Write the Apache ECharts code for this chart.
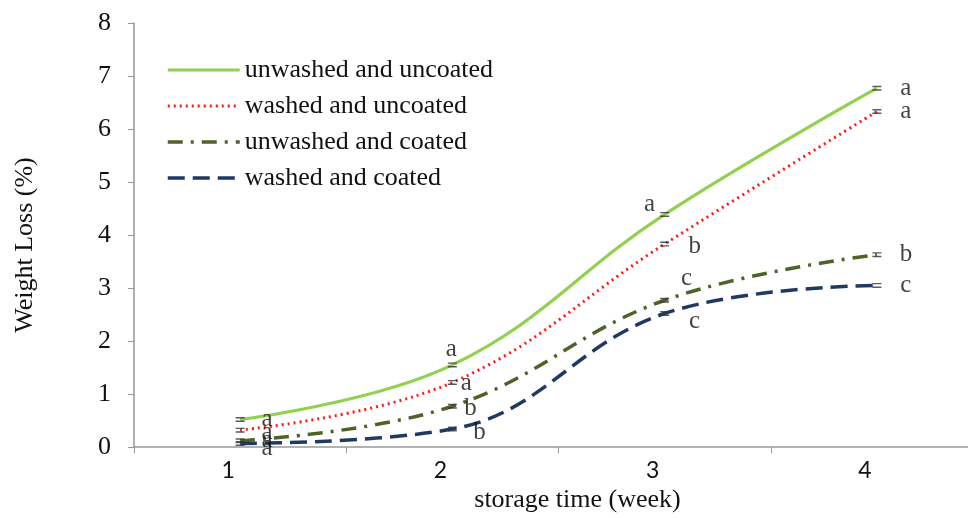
<!DOCTYPE html>
<html>
<head>
<meta charset="utf-8">
<script src="https://cdn.jsdelivr.net/npm/echarts@6/dist/echarts.min.js"></script>
<style>html,body{margin:0;padding:0;background:#fff;overflow:hidden;width:968px;height:518px;}#c{width:983px;height:518px;}</style>
</head>
<body>
<div id="c"></div>
<script>
const categories = ['1', '2', '3', '4'];
const seriesNames = ['unwashed and uncoated', 'washed and uncoated', 'unwashed and coated', 'washed and coated'];
const unwashedUncoated = [0.52, 1.55, 4.39, 6.77];
const washedUncoated = [0.32, 1.22, 3.83, 6.33];
const unwashedCoated = [0.12, 0.77, 2.77, 3.63];
const washedCoated = [0.07, 0.34, 2.52, 3.05];
const lettersUnwashedUncoated = ['a', 'a', 'a', 'a'];
const lettersWashedUncoated = ['a', 'a', 'b', 'a'];
const lettersUnwashedCoated = ['a', 'b', 'c', 'b'];
const lettersWashedCoated = ['a', 'b', 'c', 'c'];
const yTicks = [0, 1, 2, 3, 4, 5, 6, 7, 8];

const values = [unwashedUncoated, washedUncoated, unwashedCoated, washedCoated];
const letters = [lettersUnwashedUncoated, lettersWashedUncoated, lettersUnwashedCoated, lettersWashedCoated];

// layout (label offsets in pixels) – styling only
const labelOffsets = [
  [[27, 0], [-1, -15], [-15, -10], [29, 0]],
  [[27, 2], [14, 1], [30, 2], [29, 0]],
  [[27, 0], [18, 2], [22, -22], [29, 0]],
  [[27, 5], [27, 3], [30, 8], [29, 0]]
];
const colors = ['#92D050', '#FF1A1A', '#4F6228', '#1F3864'];
const lineTypes = ['solid', [2, 4], [15, 8, 3, 8], [17, 8]];
const widths = [3.2, 3, 3.5, 3.5];

const serif = 'Liberation Serif';
const series = [];
values.forEach((vals, s) => {
  series.push({
    name: seriesNames[s],
    type: 'line',
    data: vals,
    smooth: 0.4,
    symbol: 'none',
    lineStyle: { color: colors[s], width: widths[s], type: lineTypes[s] },
    itemStyle: { color: colors[s] },
    z: 3
  });
});
values.forEach((vals, s) => {
  series.push({
    type: 'scatter',
    data: vals.map((v, i) => ({ value: v, label: { offset: labelOffsets[s][i] } })),
    symbol: 'path://M0,0H10V1.6H0Z M0,4H10V5.6H0Z',
    symbolSize: [9, 5],
    itemStyle: { color: '#333' },
    silent: true,
    z: 4,
    label: {
      show: true,
      position: 'inside',
      formatter: p => letters[s][p.dataIndex],
      fontFamily: serif,
      fontSize: 25,
      color: '#111',
      align: 'center',
      verticalAlign: 'middle'
    }
  });
});

const chart = echarts.init(document.getElementById('c'), null, { renderer: 'canvas' });
chart.setOption({
  animation: false,
  backgroundColor: '#fff',
  grid: { left: 134, right: 0, top: 23, bottom: 66, containLabel: false },
  legend: {
    data: seriesNames,
    orient: 'vertical',
    left: 161,
    top: 52,
    itemWidth: 72,
    itemHeight: 14,
    itemGap: 10,
    itemStyle: { opacity: 0 },
    lineStyle: { width: 'inherit' },
    textStyle: { fontFamily: serif, fontSize: 26, color: '#111' }
  },
  xAxis: {
    type: 'category',
    data: categories,
    boundaryGap: true,
    name: 'storage time (week)',
    nameLocation: 'middle',
    nameGap: 35,
    nameTextStyle: { fontFamily: serif, fontSize: 26, color: '#111', padding: [0, 0, 0, 38] },
    axisLine: { lineStyle: { color: '#999', width: 1.5 } },
    axisTick: { show: true, inside: false, length: 6, lineStyle: { color: '#999' } },
    axisLabel: { fontFamily: 'Lato', fontSize: 23, color: '#111', margin: 12, padding: [0, 24, 0, 0] },
    splitLine: { show: false }
  },
  yAxis: {
    type: 'value',
    min: yTicks[0],
    max: yTicks[yTicks.length - 1],
    interval: 1,
    name: 'Weight Loss (%)',
    nameLocation: 'middle',
    nameRotate: 90,
    nameGap: 96,
    nameTextStyle: { fontFamily: serif, fontSize: 26, color: '#111', padding: [0, 20, 0, 0] },
    axisLine: { show: true, lineStyle: { color: '#999', width: 1.5 } },
    axisTick: { show: true, inside: false, length: 6, lineStyle: { color: '#999' } },
    axisLabel: { fontFamily: serif, fontSize: 26, color: '#111', margin: 23 },
    splitLine: { show: false }
  },
  series: series
});
</script>
</body>
</html>
